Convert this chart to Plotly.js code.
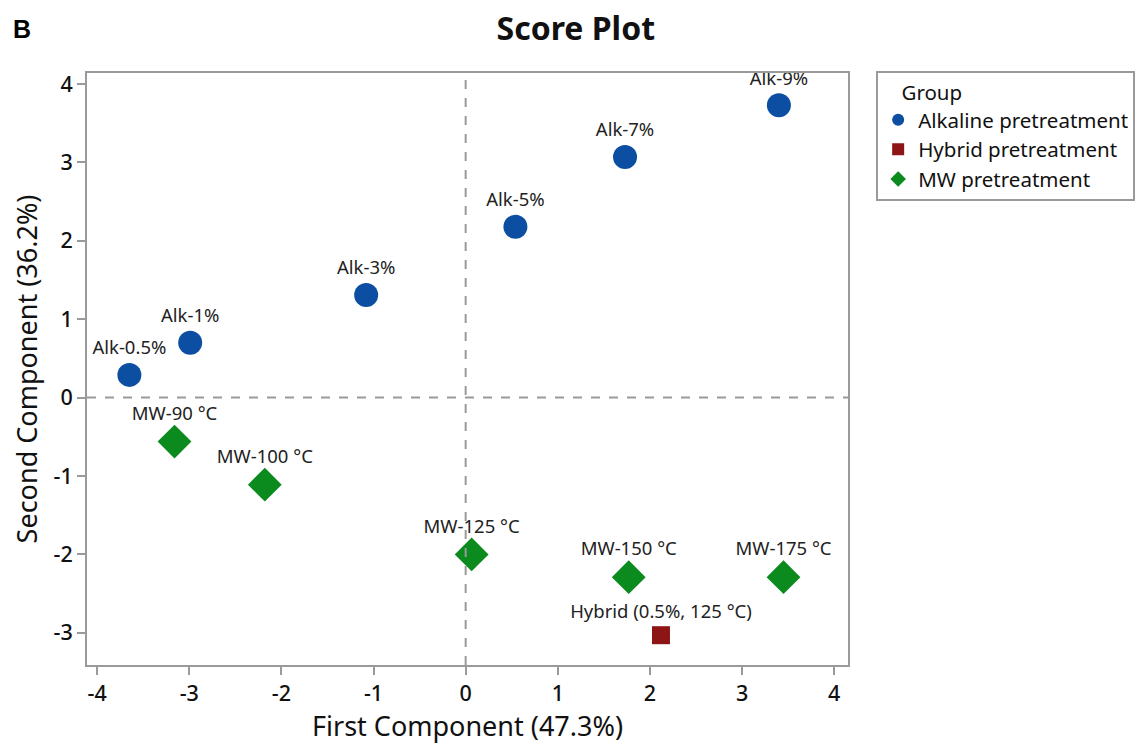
<!DOCTYPE html>
<html><head><meta charset="utf-8">
<script src="https://cdn.plot.ly/plotly-3.0.1.min.js"></script>
<style>body{margin:0;background:#fff}#chart{width:1147px;height:749px}</style>
</head><body><div id="chart"></div>
<script>
const alkLabels = ["Alk-0.5%","Alk-1%","Alk-3%","Alk-5%","Alk-7%","Alk-9%"];
const alkX = [-3.65,-2.99,-1.08,0.54,1.73,3.40];
const alkY = [0.29,0.70,1.31,2.18,3.07,3.73];
const hybLabels = ["Hybrid (0.5%, 125 °C)"];
const hybX = [2.12];
const hybY = [-3.03];
const mwLabels = ["MW-90 °C","MW-100 °C","MW-125 °C","MW-150 °C","MW-175 °C"];
const mwX = [-3.16,-2.18,0.065,1.77,3.45];
const mwY = [-0.56,-1.11,-2.00,-2.29,-2.29];
const xTicks = [-4,-3,-2,-1,0,1,2,3,4];
const yTicks = [-3,-2,-1,0,1,2,3,4];

const F = "Noto Sans, Open Sans, sans-serif";
const lblFont = {family:F,size:18.5,color:"#222"};
const traces = [
 {type:"scatter",mode:"markers+text",name:"Alkaline pretreatment",x:alkX,y:alkY,text:alkLabels,
  textposition:"top center",textfont:lblFont,cliponaxis:false,
  marker:{symbol:"circle",size:24,color:"#0B4EA2"}},
 {type:"scatter",mode:"markers+text",name:"Hybrid pretreatment",x:hybX,y:hybY,text:hybLabels,
  textposition:"top center",textfont:lblFont,cliponaxis:false,
  marker:{symbol:"square",size:18,color:"#8E1515"}},
 {type:"scatter",mode:"markers+text",name:"MW pretreatment",x:mwX,y:mwY,text:mwLabels,
  textposition:"top center",textfont:lblFont,cliponaxis:false,
  marker:{symbol:"diamond",size:26,color:"#0B8A1E"}}
];
const axisCommon = {showline:true,mirror:true,linecolor:"#9a9a9a",linewidth:2,ticks:"outside",
  ticklen:8,tickcolor:"#9a9a9a",tickwidth:2,showgrid:false,zeroline:false,
  tickfont:{family:F,size:21.5,color:"#111",weight:500}};
const layout = {
 width:1147,height:749,paper_bgcolor:"#fff",plot_bgcolor:"#fff",
 margin:{l:87,r:297,t:73,b:84},
 title:{text:"<b>Score Plot</b>",x:0.502,xanchor:"center",y:0.962,yanchor:"middle",font:{family:F,size:32,color:"#111"}},
 xaxis:Object.assign({},axisCommon,{range:[-4.11,4.15],tickvals:xTicks,ticktext:xTicks.map(String),
   title:{text:"First Component (47.3%)",font:{family:F,size:27,color:"#111"},standoff:8}}),
 yaxis:Object.assign({},axisCommon,{range:[-3.41,4.14],tickvals:yTicks,ticktext:yTicks.map(String),
   title:{text:"Second Component (36.2%)",font:{family:F,size:27,color:"#111"},standoff:8}}),
 showlegend:true,
 legend:{x:1.037,xanchor:"left",y:1.003,yanchor:"top",bordercolor:"#9a9a9a",borderwidth:2,
   font:{family:F,size:20.5,color:"#111"},title:{text:"    Group",font:{family:F,size:20.5,color:"#111"}},
   itemsizing:"constant",tracegroupgap:4},
 shapes:[
  {type:"line",xref:"x",yref:"paper",x0:0,x1:0,y0:0,y1:1,line:{color:"#9a9a9a",width:2,dash:"dash"}},
  {type:"line",xref:"paper",yref:"y",x0:0,x1:1,y0:0,y1:0,line:{color:"#9a9a9a",width:2,dash:"dash"}}
 ],
 annotations:[{text:"<b>B</b>",xref:"paper",yref:"paper",x:-0.1,y:1.075,xanchor:"left",yanchor:"middle",
   showarrow:false,font:{family:"Liberation Sans, Arial, sans-serif",size:25,color:"#000"}}]
};
Plotly.newPlot("chart",traces,layout,{displayModeBar:false});
</script></body></html>
